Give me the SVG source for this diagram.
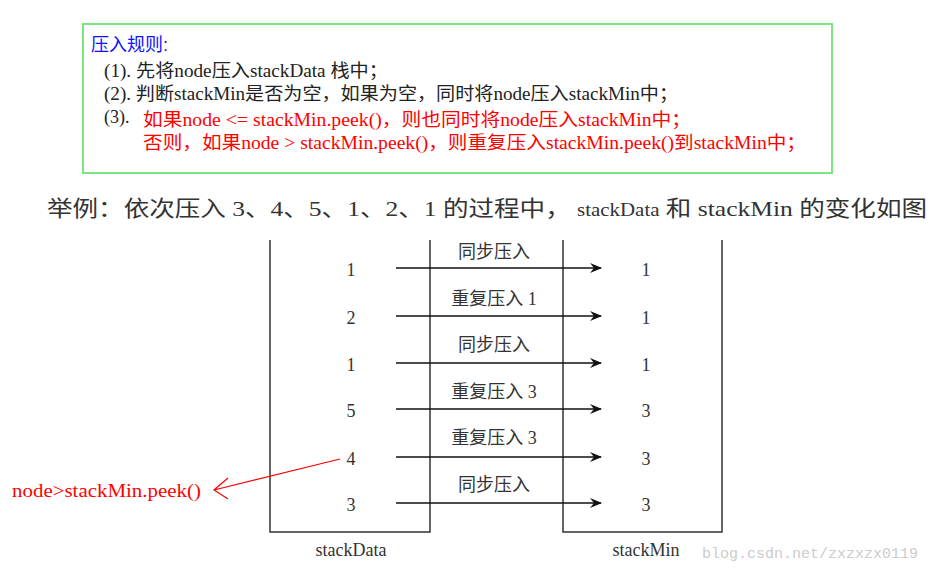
<svg xmlns="http://www.w3.org/2000/svg" width="930" height="573" viewBox="0 0 930 573">
<style>
.s{font-family:"Liberation Serif","Noto Sans CJK SC",serif;font-size:18px;fill:#222}
.r{fill:#f00}
.n{font-family:"Liberation Serif",serif;font-size:18px;fill:#333;text-anchor:middle}
.l{font-family:"Liberation Serif","Noto Sans CJK SC",serif;font-size:18px;fill:#333;text-anchor:middle}
.a{stroke:#111;stroke-width:1.5;fill:none;marker-end:url(#ah)}
</style>
<defs><marker id="ah" markerWidth="12" markerHeight="10" refX="11" refY="5" orient="auto" markerUnits="userSpaceOnUse"><path d="M0,0 L12,5 L0,10 L4,5z" fill="#111"/></marker></defs>
<rect width="930" height="573" fill="#fff"/>
<g id="rules">
<rect x="83" y="24" width="749" height="149" fill="#fff" stroke="#7de57d" stroke-width="2"/>
<text x="91" y="51" style="font-family:'Liberation Sans','Noto Sans CJK SC',sans-serif;font-size:18px;fill:#1010ff">压入规则:</text>
<text class="s" x="104" y="77" textLength="284" lengthAdjust="spacingAndGlyphs">(1). 先将node压入stackData 栈中；</text>
<text class="s" x="104" y="100" textLength="574" lengthAdjust="spacingAndGlyphs">(2). 判断stackMin是否为空，如果为空，同时将node压入stackMin中；</text>
<text class="s" x="104" y="123">(3).</text>
<text class="s r" x="143" y="126" textLength="548" lengthAdjust="spacingAndGlyphs">如果node &lt;= stackMin.peek()，则也同时将node压入stackMin中；</text>
<text class="s r" x="143" y="149" textLength="663" lengthAdjust="spacingAndGlyphs">否则，如果node &gt; stackMin.peek()，则重复压入stackMin.peek()到stackMin中；</text>
</g>
<text id="example" x="47" y="216" textLength="880" lengthAdjust="spacingAndGlyphs" style="font-family:'Liberation Serif','Noto Sans CJK SC',serif;font-size:22px;fill:#333">举例：依次压入 3、4、5、1、2、1 的过程中， <tspan font-size="18">stackData</tspan>  和 stackMin 的变化如图</text>
<g id="stackData">
<path d="M270,240 V532 H430 V240" fill="none" stroke="#333" stroke-width="1.5"/>
<text class="n" x="351" y="276">1</text><text class="n" x="351" y="324">2</text><text class="n" x="351" y="371">1</text>
<text class="n" x="351" y="417">5</text><text class="n" x="351" y="465">4</text><text class="n" x="351" y="511">3</text>
<text class="n" x="351" y="556">stackData</text>
</g>
<g id="stackMin">
<path d="M563,240 V532 H722 V240" fill="none" stroke="#333" stroke-width="1.5"/>
<text class="n" x="646" y="276">1</text><text class="n" x="646" y="324">1</text><text class="n" x="646" y="371">1</text>
<text class="n" x="646" y="417">3</text><text class="n" x="646" y="465">3</text><text class="n" x="646" y="511">3</text>
<text class="n" x="646" y="556">stackMin</text>
</g>
<g id="connectors">
<path class="a" d="M396,268 H601"/><path class="a" d="M396,316 H601"/><path class="a" d="M396,363 H601"/>
<path class="a" d="M396,409 H601"/><path class="a" d="M396,457 H601"/><path class="a" d="M396,503 H601"/>
<text class="l" x="494" y="258">同步压入</text><text class="l" x="494" y="305">重复压入 1</text><text class="l" x="494" y="351">同步压入</text>
<text class="l" x="494" y="398">重复压入 3</text><text class="l" x="494" y="444">重复压入 3</text><text class="l" x="494" y="491">同步压入</text>
<path d="M340,459 L214,490 M228,478 L214,490 L228,499" fill="none" stroke="#f00" stroke-width="1.2"/>
</g>
<text id="note" x="12" y="497" textLength="189" lengthAdjust="spacingAndGlyphs" style="font-family:'Liberation Serif',serif;font-size:18px;fill:#f00">node&gt;stackMin.peek()</text>
<text x="918" y="558" text-anchor="end" style="font-family:'Liberation Mono',monospace;font-size:15px;fill:#ccc">blog.csdn.net/zxzxzx0119</text>
</svg>
